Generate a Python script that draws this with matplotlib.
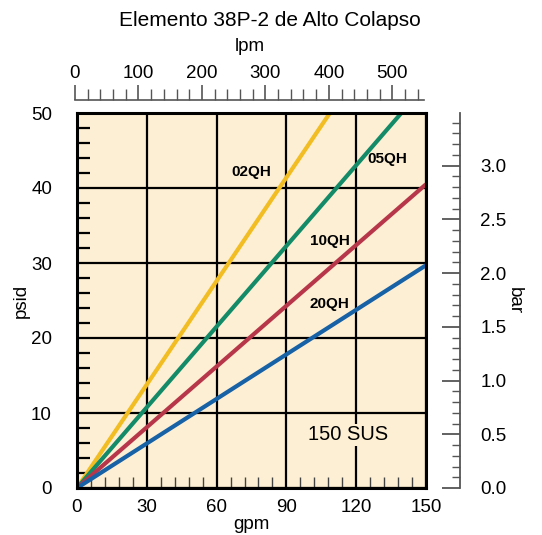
import matplotlib
matplotlib.use("Agg")
import matplotlib.pyplot as plt
from matplotlib.ticker import MultipleLocator

plt.rcParams['font.family'] = ['Liberation Sans', 'DejaVu Sans']

# ---- data ----
title = "Elemento 38P-2 de Alto Colapso"
flow_gpm = [0, 150]
series_names = ["02QH", "05QH", "10QH", "20QH"]
psid_02QH = [0, 69.0]
psid_05QH = [0, 53.8]
psid_10QH = [0, 40.5]
psid_20QH = [0, 29.7]
series_vals = [psid_02QH, psid_05QH, psid_10QH, psid_20QH]
series_colors = ["#F2BD22", "#138A68", "#B8364A", "#1761A6"]
label_pos = [(75, 42.1), (133.5, 43.9), (108.5, 32.9), (108.5, 24.5)]
gpm_ticks = [0, 30, 60, 90, 120, 150]
psid_ticks = [0, 10, 20, 30, 40, 50]
lpm_ticks = [0, 100, 200, 300, 400, 500]
bar_ticks = [0.0, 0.5, 1.0, 1.5, 2.0, 2.5, 3.0]
note = "150 SUS"

W, H = 542, 535
fig = plt.figure(figsize=(W / 100, H / 100), dpi=100)

def px(x0, y0, x1, y1):
    return [x0 / W, 1 - y1 / H, (x1 - x0) / W, (y1 - y0) / H]

ax = fig.add_axes(px(77, 113, 426, 488))
ax.set_facecolor("#FDEFD3")
ax.set_xlim(0, 150)
ax.set_ylim(0, 50)

for name, vals, c in zip(series_names, series_vals, series_colors):
    ax.plot(flow_gpm, vals, color=c, lw=3.0, solid_capstyle='butt', zorder=3)
for name, (x, y) in zip(series_names, label_pos):
    ax.text(x, y, name, fontsize=11, fontweight='bold', ha='center', va='center', zorder=4)
ax.text(116.5, 7.1, note, fontsize=14.5, ha='center', va='center', zorder=4,
        bbox=dict(facecolor="#FDEFD3", edgecolor='none', pad=1))

ax.set_xticks(gpm_ticks)
ax.set_yticks(psid_ticks)
ax.xaxis.set_minor_locator(MultipleLocator(6))
ax.yaxis.set_minor_locator(MultipleLocator(2))
ax.grid(True, which='major', color='black', lw=1.6, zorder=1)
ax.set_axisbelow(True)
ax.tick_params(axis='both', which='major', length=0, labelsize=13.5)
ax.tick_params(axis='x', which='major', pad=8)
ax.tick_params(axis='y', which='major', pad=18)
ax.tick_params(axis='x', which='minor', direction='in', length=8, width=1.0, color='#444444')
ax.tick_params(axis='y', which='minor', direction='in', length=9, width=1.6, color='black')
for s in ax.spines.values():
    s.set_linewidth(2.2)
    s.set_zorder(5)
ax.set_xlabel("gpm", fontsize=13.5, labelpad=0)
ax.set_ylabel("psid", fontsize=13.5, labelpad=1)

# right bar axis
axr = ax.twinx()
axr.set_ylim(0, 3.49)
for k in ['left', 'top', 'bottom']:
    axr.spines[k].set_visible(False)
axr.spines['right'].set_position(('outward', 24.5))
axr.spines['right'].set_color('#555555')
axr.spines['right'].set_linewidth(1.3)
axr.set_yticks(bar_ticks)
axr.set_yticklabels([f"{v:.1f}" for v in bar_ticks])
axr.yaxis.set_minor_locator(MultipleLocator(0.1))
axr.tick_params(axis='y', which='major', direction='in', length=13, width=1.3,
                color='#555555', labelsize=13.5, pad=14.5)
axr.tick_params(axis='y', which='minor', direction='in', length=6, width=1.0, color='#555555')
axr.set_ylabel("bar", fontsize=13.5, rotation=270, labelpad=12)

# top lpm axis
axt = fig.add_axes(px(75, 100, 424, 100.01))
axt.set_xlim(0, 550)
axt.patch.set_visible(False)
for k in ['left', 'right', 'bottom']:
    axt.spines[k].set_visible(False)
axt.spines['top'].set_color('#555555')
axt.spines['top'].set_linewidth(1.2)
axt.set_yticks([])
axt.xaxis.set_ticks_position('top')
axt.xaxis.set_label_position('top')
axt.set_xticks(lpm_ticks)
axt.xaxis.set_minor_locator(MultipleLocator(20))
axt.tick_params(axis='x', which='major', direction='out', length=11, width=1.2,
                color='#555555', labelsize=13.5, pad=2)
axt.tick_params(axis='x', which='minor', direction='out', length=8, width=1.0, color='#555555')
axt.set_xlabel("lpm", fontsize=13.5, labelpad=10)

fig.text(270 / W, 1 - 20 / H, title, fontsize=15, ha='center', va='center')

fig.savefig("out.png", dpi=100)
